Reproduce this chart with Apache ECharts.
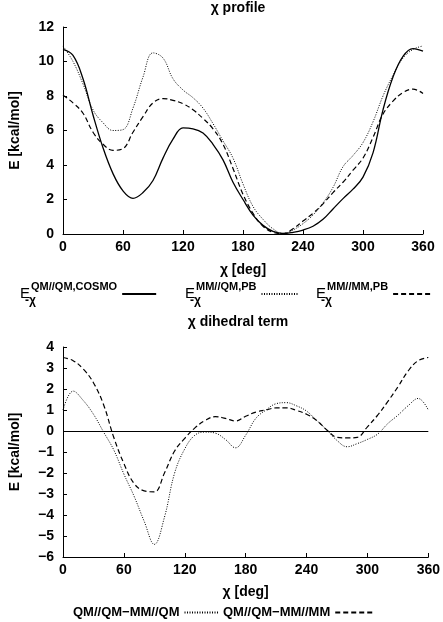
<!DOCTYPE html>
<html><head><meta charset="utf-8">
<script src="https://cdn.jsdelivr.net/npm/echarts/dist/echarts.min.js"></script>
<style>html,body{margin:0;padding:0;background:#fff}#c{width:443px;height:622px}</style>
</head><body><div id="c"></div>
<script>
// dihedral angle chi [deg]
const chi = [0,10,20,30,40,50,60,70,80,90,100,110,120,130,140,150,160,170,180,190,200,210,220,230,240,250,260,270,280,290,300,310,320,330,340,350,360];
// chi profile [kcal/mol]
const profileQMCOSMO = [10.7,10.35,9.0,6.9,5.0,3.5,2.5,2.07,2.4,3.1,4.4,5.5,6.15,6.1,5.85,5.2,4.3,3.0,2.0,1.1,0.5,0.15,0.03,0.1,0.23,0.45,0.85,1.45,2.05,2.6,3.3,4.7,7.2,9.1,10.3,10.75,10.6];
const profileMMQMPB  = [10.9,10.0,8.7,7.2,6.45,6.0,6.05,7.3,9.1,10.5,10.2,9.0,8.35,7.9,7.3,6.4,5.4,4.4,2.9,1.6,0.85,0.3,0.03,0.23,0.6,1.1,1.8,2.7,3.9,4.55,5.3,6.5,8.0,9.2,10.2,10.7,10.9];
const profileMMMMPB  = [8.05,7.6,7.0,5.9,5.2,4.85,4.95,5.9,6.8,7.6,7.85,7.75,7.55,7.2,6.7,6.1,5.2,3.8,2.3,1.2,0.45,0.1,0.02,0.3,0.75,1.2,1.75,2.4,3.0,3.7,4.4,5.6,6.95,7.7,8.2,8.4,8.15];
// chi dihedral term [kcal/mol]
const dihedQM = [1.0,1.9,1.45,0.8,-0.05,-0.9,-2.05,-3.1,-4.3,-5.4,-4.1,-2.0,-0.85,-0.2,-0.05,-0.1,-0.4,-0.8,-0.2,0.6,1.0,1.3,1.35,1.2,0.95,0.5,0.05,-0.45,-0.75,-0.6,-0.4,-0.15,0.35,0.75,1.2,1.55,1.0];
const dihedMM = [3.5,3.35,2.95,2.3,1.25,-0.3,-1.55,-2.5,-2.85,-2.9,-2.0,-0.95,-0.35,0.15,0.5,0.68,0.6,0.48,0.7,0.9,1.0,1.1,1.1,0.98,0.8,0.5,0.05,-0.3,-0.33,-0.3,0.2,0.75,1.4,2.1,2.85,3.35,3.5];

const names = ['QMQMCOSMO','MMQMPB','MMMMPB','QM//QM\u2212MM//QM','QM//QM\u2212MM//MM'];
const sups = {QMQMCOSMO:'QM//QM,COSMO', MMQMPB:'MM//QM,PB', MMMMPB:'MM//MM,PB'};

const pairs = v => chi.map((c,i)=>[c, v[i]]);
const F = 'Liberation Sans, Arial, sans-serif';
const minus = v => String(v).replace('-', '\u2212');

function axisX(gi){
  return {type:'value', gridIndex:gi, min:0, max:360, interval:60,
    name:'\u03c7 [deg]', nameLocation:'middle', nameGap: gi===0?29:28,
    nameTextStyle:{color:'#000', fontSize:14, fontFamily:F, fontWeight:'bold'},
    axisLine:{onZero:false, lineStyle:{color:'#000', width:1}},
    axisTick:{inside:true, length:4, lineStyle:{color:'#000'}},
    axisLabel:{color:'#000', fontSize:14, fontFamily:F, fontWeight:'bold', margin:6},
    splitLine:{show:false}};
}
function axisY(gi, min, max, iv){
  return {type:'value', gridIndex:gi, min:min, max:max, interval:iv,
    name:'E [kcal/mol]', nameLocation:'middle', nameGap:41,
    nameTextStyle:{color:'#000', fontSize:14, fontFamily:F, fontWeight:'bold'},
    axisLine:{show:true, lineStyle:{color:'#000', width:1}},
    axisTick:{show:true, inside:true, length:4, lineStyle:{color:'#000'}},
    axisLabel:{color:'#000', fontSize:14, fontFamily:F, fontWeight:'bold', margin:9, formatter:minus},
    splitLine:{show:false}};
}
const richLeg = {
  e:{fontSize:15, fontFamily:F, color:'#000', lineHeight:26, verticalAlign:'middle'},
  sub:{fontSize:12, fontFamily:F, fontWeight:'bold', color:'#000', width:1, align:'left', lineHeight:12, verticalAlign:'bottom'},
  sup:{fontSize:11, fontFamily:F, fontWeight:'bold', color:'#000', lineHeight:10, verticalAlign:'top'}
};
function legTop(name, left, w){
  return {data:[name], left:left, top:281, padding:0, align:'right', itemWidth:w, itemHeight:10, itemGap:0,
    selectedMode:false, itemStyle:{opacity:0},
    formatter: n => '{e|E}{sub|-\u03c7}{sup|'+sups[n]+'}',
    textStyle:{color:'#000', rich:richLeg}};
}
function legBot(name, left, w){
  return {data:[name], left:left, top:606, padding:0, align:'right', itemWidth:w, itemHeight:10,
    selectedMode:false, itemStyle:{opacity:0},
    textStyle:{color:'#000', fontSize:13, fontFamily:F, fontWeight:'bold'}};
}
function line(name, data, xi, type, w){
  return {name:name, type:'line', xAxisIndex:xi, yAxisIndex:xi, data:pairs(data), smooth:0.4,
    symbol:'none', showSymbol:false, animation:false,
    lineStyle:{color:'#000', width:w, type:type}, itemStyle:{color:'#000'}};
}

const chart = echarts.init(document.getElementById('c'), null, {renderer:'canvas'});
const dotted = [1,1.5], dashed = [5,3];
const sZero = line(names[4], dihedMM, 1, dashed, 1.2);
sZero.markLine = {silent:true, symbol:'none', label:{show:false}, animation:false,
  lineStyle:{color:'#000', type:'solid', width:1}, data:[{yAxis:0}]};

chart.setOption({
  animation:false,
  backgroundColor:'#fff',
  title:[
    {text:'\u03c7 profile', left:238, top:1, padding:0, textAlign:'center', textStyle:{fontSize:14, fontFamily:F, fontWeight:'bold', color:'#000'}},
    {text:'\u03c7 dihedral term', left:238, top:315, padding:0, textAlign:'center', textStyle:{fontSize:14, fontFamily:F, fontWeight:'bold', color:'#000'}}
  ],
  grid:[
    {left:55, top:27, right:20, height:207},
    {left:53, top:347, right:13, height:210}
  ],
  xAxis:[axisX(0), axisX(1)],
  yAxis:[axisY(0,0,12,2), axisY(1,-6,4,1)],
  legend:[
    legTop(names[0], 20, 34),
    legTop(names[1], 185, 37),
    legTop(names[2], 316, 40),
    legBot(names[3], 73, 34),
    legBot(names[4], 223, 40)
  ],
  series:[
    line(names[0], profileQMCOSMO, 0, 'solid', 1.3),
    line(names[1], profileMMQMPB, 0, dotted, 1),
    line(names[2], profileMMMMPB, 0, dashed, 1.2),
    line(names[3], dihedQM, 1, dotted, 1),
    sZero
  ]
});
</script></body></html>
